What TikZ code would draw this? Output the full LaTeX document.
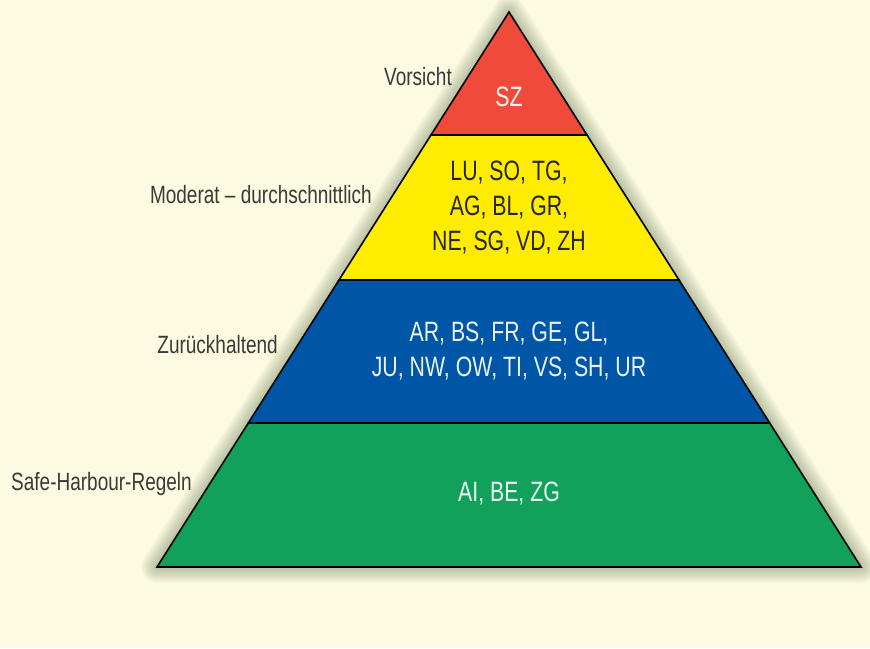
\documentclass[tikz,border=0pt]{standalone}
\usepackage{fontspec}
\setmainfont[FakeStretch=0.76]{Liberation Sans}
\definecolor{bgcream}{HTML}{FCFAE0}
\definecolor{pyrred}{HTML}{F04A3B}
\definecolor{pyryellow}{HTML}{FFEC00}
\definecolor{pyrblue}{HTML}{0056A6}
\definecolor{pyrgreen}{HTML}{12A15A}
\definecolor{labelgray}{HTML}{3A3A3A}
\definecolor{shadowtone}{HTML}{2E4A22}

\begin{document}
\begin{tikzpicture}[x=1pt,y=-1pt,
    level label/.style={text=labelgray,font=\fontsize{25}{28}\selectfont,anchor=east,inner sep=0pt},
    band text/.style={font=\fontsize{28}{35}\selectfont,align=center,inner sep=0pt},
    band/.style={draw=black,line width=1.6pt,line join=miter}]
    \fill[bgcream] (0,0) rectangle (870,648);
    \useasboundingbox (0,0) rectangle (870,648);
    % corners of the pyramid and its levels
    \coordinate (apex) at (509,12);
    \coordinate (bl) at (157,567);
    \coordinate (br) at (861,567);
    \coordinate (l1) at (431,135);
    \coordinate (r1) at (587,135);
    \coordinate (l2) at (339,280);
    \coordinate (r2) at (679,280);
    \coordinate (l3) at (248.3,423);
    \coordinate (r3) at (769.7,423);
    % soft shadow
    \foreach \w in {3,7,...,31}
        \draw[shadowtone,opacity=0.045,line width=\w pt,line join=round,shift={(0,7)}]
            (apex) -- (br) -- (bl) -- cycle;
    % levels
    \filldraw[band,fill=pyrgreen] (l3) -- (r3) -- (br) -- (bl) -- cycle;
    \filldraw[band,fill=pyrblue] (l2) -- (r2) -- (r3) -- (l3) -- cycle;
    \filldraw[band,fill=pyryellow] (l1) -- (r1) -- (r2) -- (l2) -- cycle;
    \filldraw[band,fill=pyrred] (apex) -- (r1) -- (l1) -- cycle;
    % texts inside
    \node[band text,text=white!95!pyrred] (sz) at (509,97) {SZ};
    \node[band text,text=black!85] (moderate) at (509,208) {LU, SO, TG,\\AG, BL, GR,\\NE, SG, VD, ZH};
    \node[band text,text=white!92!pyrblue] (reserved) at (509,351) {AR, BS, FR, GE, GL,\\JU, NW, OW, TI, VS, SH, UR};
    \node[band text,text=white!92!pyrgreen] (safe) at (509,494) {AI, BE, ZG};
    % labels on the left
    \node[level label] (vorsicht) at (452,77) {Vorsicht};
    \node[level label] (moderat) at (372,195) {Moderat -- durchschnittlich};
    \node[level label] (zurueck) at (278,345) {Zurückhaltend};
    \node[level label] (harbour) at (192,484) {Safe-Harbour-Regeln};
\end{tikzpicture}
\end{document}
